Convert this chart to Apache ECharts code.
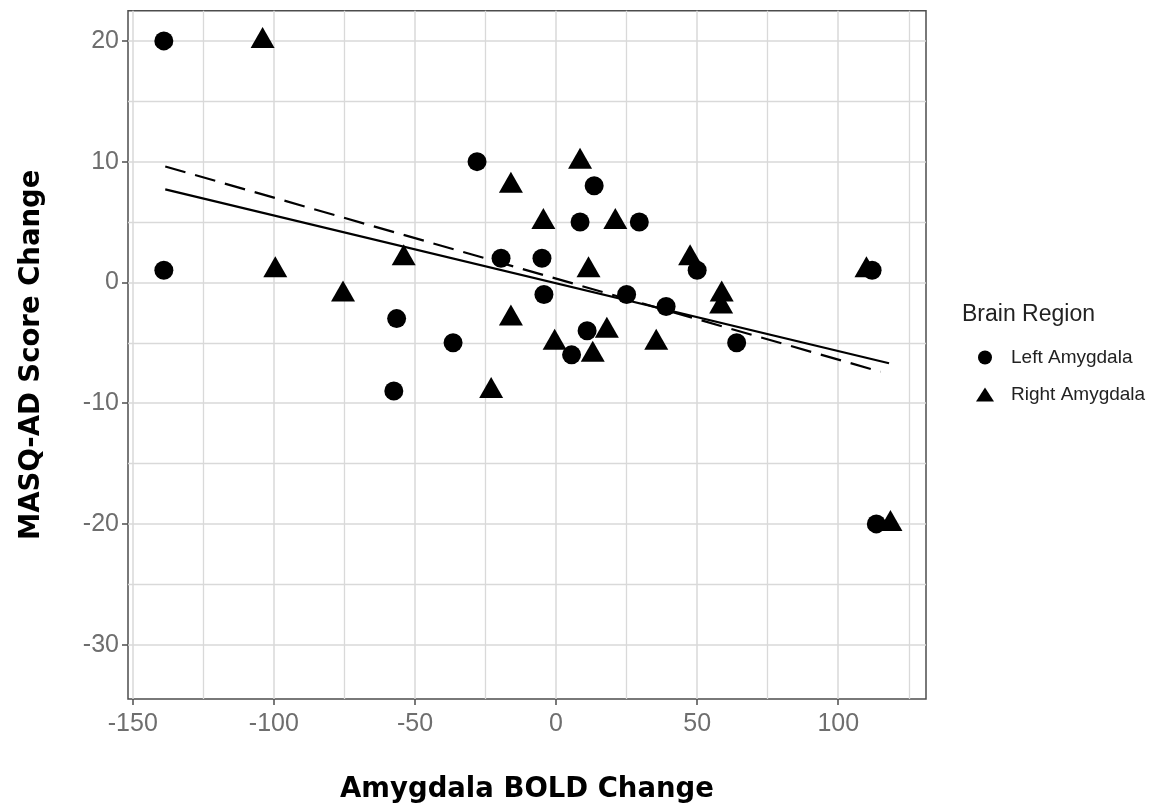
<!DOCTYPE html>
<html>
<head>
<meta charset="utf-8">
<title>MASQ-AD Score Change vs Amygdala BOLD Change</title>
<script src="https://cdn.jsdelivr.net/npm/echarts@6/dist/echarts.min.js"></script>
<style>
  html, body { margin: 0; padding: 0; background: #fff; }
  #chart { width: 1162px; height: 809px; }
</style>
</head>
<body>
<div id="chart"></div>
<script>
// left amygdala (circles)
var leftX = [-139, -139, -28, 13.5, 8.5, 29.5, -19.5, -5, -4.3, 50, 112, -56.5, -36.5, -57.5, 5.5, 11, 25, 39, 64, 113.5];
var leftY = [20, 1, 10, 8, 5, 5, 2, 2, -1, 1, 1, -3, -5, -9, -6, -4, -1, -2, -5, -20];

// right amygdala (triangles)
var rightX = [-104, -99.5, -75.5, -54, -23, -16, -16, -4.5, 8.5, 21, 11.5, -0.5, 13, 18, 35.5, 47.5, 58.7, 58.5, 110, 118.5];
var rightY = [20, 1, -1, 2, -9, 8, -3, 5, 10, 5, 1, -5, -6, -4, -5, 2, -1, -2, 1, -20];

// fitted lines (end points)
var solidX = [-138.5, 118];
var solidY = [7.7, -6.7];
var dashX = [-138.5, 115];
var dashY = [9.6, -7.4];

// ticks
var xMajor = [-150, -100, -50, 0, 50, 100];
var xMinor = [-125, -75, -25, 25, 75, 125];
var yMajor = [-30, -20, -10, 0, 10, 20];
var yMinor = [-25, -15, -5, 5, 15];

var seriesNames = ['Left Amygdala', 'Right Amygdala'];

function pairs(xs, ys) {
  return xs.map(function (x, i) { return [x, ys[i]]; });
}

var sans = '"Liberation Sans", Arial, sans-serif';
var titleFont = '"DejaVu Sans", sans-serif';
var gridColor = '#d9d9d9';
var tickColor = '#4d4d4d';

var xRange = { min: -151.7, max: 131.1 };
var yRange = { min: -34.5, max: 22.5 };

var chart = echarts.init(document.getElementById('chart'));

var option = {
  animation: false,
  backgroundColor: '#fff',
  title: {
    text: 'Brain Region',
    left: 957,
    top: 298,
    textStyle: { fontFamily: sans, fontSize: 23, fontWeight: 'normal', color: '#222' }
  },
  legend: {
    orient: 'vertical',
    left: 971,
    top: 343,
    itemWidth: 18,
    itemHeight: 14,
    itemGap: 18,
    data: [
      { name: seriesNames[0], icon: 'circle' },
      { name: seriesNames[1], icon: 'triangle' }
    ],
    textStyle: { fontFamily: sans, fontSize: 19, color: '#222', padding: [0, 0, 0, 12] }
  },
  grid: {
    left: 128,
    right: 236,
    top: 10.7,
    bottom: 109.7,
    show: true,
    borderColor: '#4d4d4d',
    borderWidth: 1.5,
    backgroundColor: 'transparent'
  },
  xAxis: [
    {
      type: 'value',
      min: xRange.min,
      max: xRange.max,
      name: 'Amygdala BOLD Change',
      nameLocation: 'middle',
      nameGap: 77,
      nameTextStyle: { fontFamily: titleFont, fontSize: 27.5, fontWeight: 'bold', color: '#000' },
      axisLine: { show: false, onZero: false },
      axisTick: { show: true, customValues: xMajor, length: 6, lineStyle: { color: tickColor, width: 1.5 } },
      axisLabel: { customValues: xMajor, margin: 13, fontFamily: sans, fontSize: 25, color: '#6e6e6e' },
      splitLine: { show: true, lineStyle: { color: gridColor, width: 1.5 } }
    },
    {
      type: 'value',
      min: xRange.min,
      max: xRange.max,
      axisLine: { show: false, onZero: false },
      axisTick: { show: false, customValues: xMinor },
      axisLabel: { show: false },
      splitLine: { show: true, lineStyle: { color: gridColor, width: 1.3 } }
    }
  ],
  yAxis: [
    {
      type: 'value',
      min: yRange.min,
      max: yRange.max,
      name: 'MASQ-AD Score Change',
      nameLocation: 'middle',
      nameGap: 82,
      nameTextStyle: { fontFamily: titleFont, fontSize: 27.5, fontWeight: 'bold', color: '#000' },
      axisLine: { show: false, onZero: false },
      axisTick: { show: true, customValues: yMajor, length: 6, lineStyle: { color: tickColor, width: 1.5 } },
      axisLabel: { customValues: yMajor, margin: 9, fontFamily: sans, fontSize: 25, color: '#6e6e6e' },
      splitLine: { show: true, lineStyle: { color: gridColor, width: 1.5 } }
    },
    {
      type: 'value',
      min: yRange.min,
      max: yRange.max,
      axisLine: { show: false, onZero: false },
      axisTick: { show: false, customValues: yMinor },
      axisLabel: { show: false },
      splitLine: { show: true, lineStyle: { color: gridColor, width: 1.3 } }
    }
  ],
  series: [
    {
      name: seriesNames[0],
      type: 'scatter',
      symbol: 'circle',
      symbolSize: 19,
      itemStyle: { color: '#000', opacity: 1 },
      data: pairs(leftX, leftY),
      z: 3
    },
    {
      name: seriesNames[1],
      type: 'scatter',
      symbol: 'triangle',
      symbolSize: [24, 21],
      symbolOffset: [0, -3.5],
      itemStyle: { color: '#000', opacity: 1 },
      data: pairs(rightX, rightY),
      z: 3
    },
    {
      name: 'fit solid',
      type: 'line',
      symbol: 'none',
      silent: true,
      lineStyle: { color: '#000', width: 2.2 },
      data: pairs(solidX, solidY),
      z: 4
    },
    {
      name: 'fit dashed',
      type: 'line',
      symbol: 'none',
      silent: true,
      lineStyle: { color: '#000', width: 2.2, type: [21, 10] },
      data: pairs(dashX, dashY),
      z: 4
    }
  ]
};

chart.setOption(option);
</script>
</body>
</html>
